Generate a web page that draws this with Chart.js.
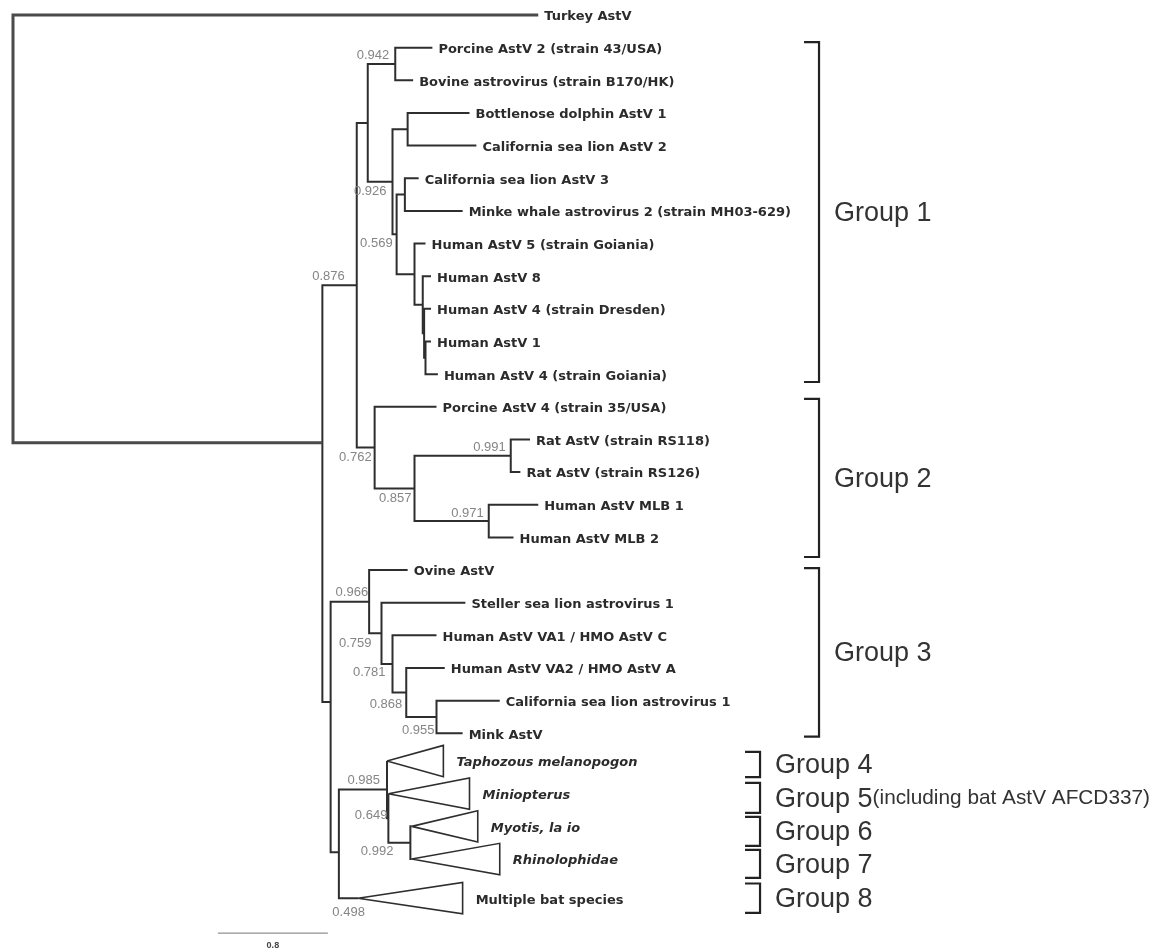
<!DOCTYPE html>
<html>
<head>
<meta charset="utf-8">
<script src="https://cdn.jsdelivr.net/npm/chart.js@4.4.1/dist/chart.umd.min.js"></script>
<style>
  html, body { margin: 0; padding: 0; background: #fff; }
  #wrap { width: 1162px; height: 952px; position: relative; }
</style>
</head>
<body>
<div id="wrap"><canvas id="tree"></canvas></div>
<script>
// Taxa, top to bottom. Depth = distance from the root (substitutions/site).
const taxa = [
  'Turkey AstV',
  'Porcine AstV 2 (strain 43/USA)',
  'Bovine astrovirus (strain B170/HK)',
  'Bottlenose dolphin AstV 1',
  'California sea lion AstV 2',
  'California sea lion AstV 3',
  'Minke whale astrovirus 2 (strain MH03-629)',
  'Human AstV 5 (strain Goiania)',
  'Human AstV 8',
  'Human AstV 4 (strain Dresden)',
  'Human AstV 1',
  'Human AstV 4 (strain Goiania)',
  'Porcine AstV 4 (strain 35/USA)',
  'Rat AstV (strain RS118)',
  'Rat AstV (strain RS126)',
  'Human AstV MLB 1',
  'Human AstV MLB 2',
  'Ovine AstV',
  'Steller sea lion astrovirus 1',
  'Human AstV VA1 / HMO AstV C',
  'Human AstV VA2 / HMO AstV A',
  'California sea lion astrovirus 1',
  'Mink AstV',
  'Taphozous melanopogon',
  'Miniopterus',
  'Myotis, la io',
  'Rhinolophidae',
  'Multiple bat species'
];
const taxonRow = [0, 1, 2, 3, 4, 5, 6, 7, 8, 9, 10, 11, 12, 13, 14, 15, 16,
  17, 18, 19, 20, 21, 22, 22.85, 23.85, 24.85, 25.85, 27.05];
const taxonDepth = [3.82, 3.05, 2.91, 3.32, 3.37, 2.95, 3.27, 3.00, 3.04, 3.04,
  3.04, 3.09, 3.08, 3.76, 3.69, 3.82, 3.64, 2.87, 3.29, 3.08, 3.14, 3.54, 3.27,
  3.13, 3.32, 3.38, 3.54, 3.27];
// collapsed bat clades: depth of the triangle's apex (null = single taxon)
const cladeApex = [null, null, null, null, null, null, null, null, null, null,
  null, null, null, null, null, null, null, null, null, null, null, null, null,
  2.72, 2.73, 2.90, 2.90, 2.51];
const italicTaxa = [23, 24, 25, 26];

// Internal nodes: numbers in nodeKids are taxon indexes, strings are node ids
const nodeIds = ['root', 'in', 'a876', 'g1', 'n942', 'n926', 'nbd', 'n569', 'ncm',
  'nh1', 'nh2', 'nh3', 'nh4', 'n762', 'n857', 'n991', 'n971', 'b', 'n966', 'n759',
  'n781', 'n868', 'n955', 'bat', 'n985', 'n649', 'n992'];
const nodeDepth = [0, 2.25, 2.50, 2.58, 2.78, 2.76, 2.87, 2.79, 2.85,
  2.92, 2.98, 2.99, 3.00, 2.63, 2.92, 3.62, 3.46, 2.31, 2.59, 2.68,
  2.76, 2.86, 3.08, 2.37, 2.72, 2.73, 2.89];
const nodeKids = [[0, 'in'], ['a876', 'b'], ['g1', 'n762'], ['n942', 'n926'], [1, 2],
  ['nbd', 'n569'], [3, 4], ['ncm', 'nh1'], [5, 6], [7, 'nh2'], [8, 'nh3'], [9, 'nh4'],
  [10, 11], [12, 'n857'], ['n991', 'n971'], [13, 14], [15, 16], ['n966', 'bat'],
  [17, 'n759'], [18, 'n781'], [19, 'n868'], [20, 'n955'], [21, 22], ['n985', 27],
  [23, 'n649'], [24, 'n992'], [25, 26]];
const nodeSupport = ['', '', '0.876', '', '0.942', '0.926', '', '0.569', '',
  '', '', '', '', '0.762', '0.857', '0.991', '0.971', '', '0.966', '0.759',
  '0.781', '0.868', '0.955', '0.498', '0.985', '0.649', '0.992'];
// nodes not drawn at the midpoint of their children
const nodeRowFixed = { in: 13.1, b: 21.04, bat: 25.64 };

const groupNames = ['Group 1', 'Group 2', 'Group 3', 'Group 4', 'Group 5', 'Group 6', 'Group 7', 'Group 8'];
const groupNote = ['', '', '', '', '(including bat AstV AFCD337)', '', '', ''];
const groupFrom = [0.83, 11.76, 16.94, 22.57, 23.52, 24.56, 25.57, 26.6];
const groupTo = [11.24, 16.6, 22.1, 23.34, 24.44, 25.45, 26.43, 27.5];

const scaleBarValue = 0.8;

// ---- layout (pixels / data placement, not data) ----
const PX_PER_UNIT = 137.5, X0 = 13, PX_PER_ROW = 32.65, Y0 = 15;
const W = 1162, H = 952;
const bracketX = [5.862, 5.862, 5.862, 5.433, 5.433, 5.433, 5.433, 5.433];
const scaleBarAt = { x: 1.49, row: 28.12 };
// support label: [dx to right edge, dy] in px from the node
const supportOffset = {
  a876: [-12, -9], n942: [-6, -9], n926: [-6, 10], n569: [-4, 9], n762: [-3, 10],
  n857: [-3, 10], n991: [-5, -8], n971: [-5, -8], n966: [-1, -9], n759: [-10, 10],
  n781: [-7, 9], n868: [-4, 12], n955: [-2, 13], bat: [26, 60], n985: [-7, -9],
  n649: [-1, -3], n992: [-17, 9]
};

const nodeIndex = id => nodeIds.indexOf(id);
function rowOf(ref) {
  if (typeof ref === 'number') return taxonRow[ref];
  if (nodeRowFixed[ref] !== undefined) return nodeRowFixed[ref];
  const kids = nodeKids[nodeIndex(ref)];
  return (rowOf(kids[0]) + rowOf(kids[kids.length - 1])) / 2;
}
function depthOf(ref) {
  if (typeof ref === 'number') return cladeApex[ref] !== null ? cladeApex[ref] : taxonDepth[ref];
  return nodeDepth[nodeIndex(ref)];
}

const lineStyle = {
  showLine: true, pointRadius: 0, pointHoverRadius: 0, fill: false,
  borderColor: '#2e2e2e', borderWidth: 2, tension: 0,
  borderJoinStyle: 'miter', borderCapStyle: 'butt'
};

const datasets = [];
nodeIds.forEach((id, i) => {
  const [k0, k1] = nodeKids[i];
  const d = nodeDepth[i];
  datasets.push({
    ...lineStyle,
    borderWidth: id === 'root' ? 3 : 2,
    borderColor: id === 'root' ? '#4a4a4a' : '#2e2e2e',
    data: [
      { x: depthOf(k0), y: rowOf(k0) }, { x: d, y: rowOf(k0) },
      { x: d, y: rowOf(k1) }, { x: depthOf(k1), y: rowOf(k1) }
    ]
  });
});
// collapsed clades as triangles
taxa.forEach((name, i) => {
  if (cladeApex[i] === null) return;
  const r = taxonRow[i];
  datasets.push({
    ...lineStyle, borderWidth: 1.6,
    data: [
      { x: cladeApex[i], y: r }, { x: taxonDepth[i], y: r - 0.48 },
      { x: taxonDepth[i], y: r + 0.48 }, { x: cladeApex[i], y: r }
    ]
  });
});
// group brackets
const arm = 15 / PX_PER_UNIT;
groupNames.forEach((g, i) => {
  datasets.push({
    ...lineStyle, borderWidth: 2.2, borderColor: '#222',
    data: [
      { x: bracketX[i] - arm, y: groupFrom[i] }, { x: bracketX[i], y: groupFrom[i] },
      { x: bracketX[i], y: groupTo[i] }, { x: bracketX[i] - arm, y: groupTo[i] }
    ]
  });
});
// scale bar
datasets.push({
  ...lineStyle, borderWidth: 1, borderColor: '#777',
  data: [{ x: scaleBarAt.x, y: scaleBarAt.row }, { x: scaleBarAt.x + scaleBarValue, y: scaleBarAt.row }]
});

const treeLabels = {
  id: 'treeLabels',
  afterDatasetsDraw(chart) {
    const { ctx, scales: { x, y } } = chart;
    ctx.save();
    ctx.textBaseline = 'middle';
    ctx.textAlign = 'left';
    ctx.fillStyle = '#2b2b2b';
    taxa.forEach((name, i) => {
      const collapsed = cladeApex[i] !== null;
      ctx.font = (italicTaxa.includes(i) ? 'italic ' : '') + 'bold 13px "DejaVu Sans", Verdana, sans-serif';
      ctx.fillText(name, x.getPixelForValue(taxonDepth[i]) + (collapsed ? 13 : 6),
        y.getPixelForValue(taxonRow[i]) + 2);
    });

    // support values
    ctx.font = '13px "Liberation Sans", Arial, sans-serif';
    ctx.fillStyle = '#858585';
    ctx.textAlign = 'right';
    nodeIds.forEach((id, i) => {
      if (!nodeSupport[i]) return;
      const off = supportOffset[id] || [-5, 10];
      ctx.fillText(nodeSupport[i], x.getPixelForValue(nodeDepth[i]) + off[0],
        y.getPixelForValue(rowOf(id)) + off[1]);
    });

    // group names
    ctx.textAlign = 'left';
    ctx.textBaseline = 'alphabetic';
    ctx.fillStyle = '#333';
    groupNames.forEach((g, i) => {
      const gx = x.getPixelForValue(bracketX[i]) + 15;
      const gy = y.getPixelForValue((groupFrom[i] + groupTo[i]) / 2) + 9;
      ctx.font = '27px "Liberation Sans", Arial, sans-serif';
      ctx.fillText(g, gx, gy);
      if (groupNote[i]) {
        const w = ctx.measureText(g).width;
        ctx.font = '20.8px "Liberation Sans", Arial, sans-serif';
        ctx.fillText(groupNote[i], gx + w, gy - 3);
      }
    });

    // scale bar value
    ctx.font = 'bold 9px "Liberation Sans", Arial, sans-serif';
    ctx.fillStyle = '#444';
    ctx.textAlign = 'center';
    ctx.textBaseline = 'middle';
    ctx.fillText(String(scaleBarValue), x.getPixelForValue(scaleBarAt.x + scaleBarValue / 2),
      y.getPixelForValue(scaleBarAt.row) + 12);
    ctx.restore();
  }
};

new Chart(document.getElementById('tree'), {
  type: 'scatter',
  data: { datasets },
  options: {
    responsive: true,
    maintainAspectRatio: false,
    animation: false,
    layout: { padding: 0 },
    plugins: { legend: { display: false }, tooltip: { enabled: false } },
    events: [],
    scales: {
      x: { type: 'linear', display: false, min: -X0 / PX_PER_UNIT, max: (W - X0) / PX_PER_UNIT },
      y: { type: 'linear', display: false, reverse: true, min: -Y0 / PX_PER_ROW, max: (H - Y0) / PX_PER_ROW }
    }
  },
  plugins: [treeLabels]
});
</script>
</body>
</html>
